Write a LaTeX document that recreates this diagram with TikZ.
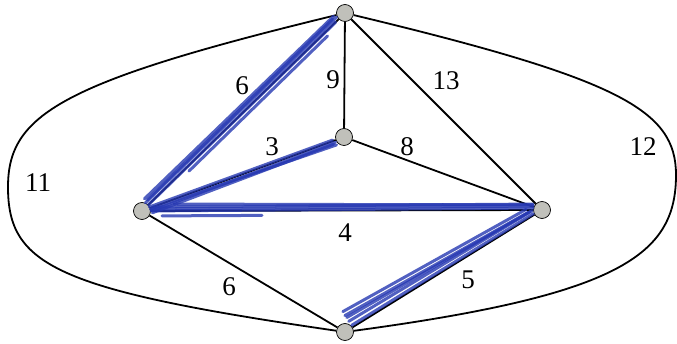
\documentclass[tikz,border=0pt]{standalone}
\usepackage{fontspec}
\setmainfont{Liberation Serif}
\definecolor{pen}{RGB}{38,56,178}
\definecolor{dot}{RGB}{192,192,186}

\begin{document}
\begin{tikzpicture}[x=1pt,y=-1pt,
 v/.style={circle,draw=black,line width=0.7pt,fill=dot,minimum size=17pt,inner sep=0pt},
 e/.style={line width=1.8pt},
 w/.style={font=\fontsize{27}{27}\selectfont,inner sep=0pt},
 hl/.style={draw=pen,line width=3pt,line cap=round,opacity=0.8,shorten <=9pt,shorten >=9pt}]
 \useasboundingbox (0,0) rectangle (677,344);
 \node[v](top) at (345,13){};
 \node[v](mid) at (344,137){};
 \node[v](lft) at (142,211){};
 \node[v](rgt) at (542,210){};
 \node[v](bot) at (345,332){};
 \coordinate (lx) at (8,187);
 \coordinate (rx) at (676,175);
 % outer arcs
 \draw[e](top) .. controls (60,82) and (8,115) .. (lx) .. controls (8,265) and (55,290) .. (bot);
 \draw[e](top) .. controls (620,79) and (676,110) .. (rx) .. controls (676,255) and (620,295) .. (bot);
 % inner edges
 \draw[e](top)--(mid);
 \draw[e](top)--(lft);
 \draw[e](top)--(rgt);
 \draw[e](mid)--(lft);
 \draw[e](mid)--(rgt);
 \draw[e](lft)--(rgt);
 \draw[e](lft)--(bot);
 \draw[e](rgt)--(bot);
 % pen strokes of the tree
 \draw[hl]([shift={(-3,-2)}]lft.center)--([shift={(-2,-2)}]top.center);
 \draw[hl]([shift={(-1,-5)}]lft.center)--([shift={(-6,0)}]top.center);
 \draw[hl]([shift={(0,0)}]lft.center)--([shift={(-3,3)}]top.center);
 \draw[hl]([shift={(-4,-6)}]lft.center)--([shift={(-5,-3)}]top.center);
 \draw[hl,shorten <=60pt,shorten >=30pt]([shift={(4,2)}]lft.center)--([shift={(4,2)}]top.center);
 \draw[hl]([shift={(1,3)}]lft.center)--([shift={(0,2)}]mid.center);
 \draw[hl]([shift={(0,1)}]lft.center)--([shift={(1,5)}]mid.center);
 \draw[hl]([shift={(2,5)}]lft.center)--([shift={(-2,4)}]mid.center);
 \draw[hl]([shift={(-1,-1)}]lft.center)--([shift={(-3,0)}]mid.center);
 \draw[hl]([shift={(0,-2)}]lft.center)--([shift={(0,-4)}]rgt.center);
 \draw[hl]([shift={(2,-4)}]lft.center)--([shift={(0,-6)}]rgt.center);
 \draw[hl]([shift={(0,0)}]lft.center)--([shift={(0,-2)}]rgt.center);
 \draw[hl,shorten <=30pt]([shift={(2,-7)}]lft.center)--([shift={(0,-5)}]rgt.center);
 \draw[hl,shorten <=20pt,shorten >=280pt]([shift={(0,5)}]lft.center)--([shift={(0,4)}]rgt.center);
 \draw[hl]([shift={(-2,-4)}]rgt.center)--([shift={(-4,-6)}]bot.center);
 \draw[hl]([shift={(-4,-3)}]rgt.center)--([shift={(-6,-10)}]bot.center);
 \draw[hl]([shift={(-1,-1)}]rgt.center)--([shift={(-1,-2)}]bot.center);
 \draw[hl]([shift={(-6,-2)}]rgt.center)--([shift={(-8,-12)}]bot.center);
 \draw[hl]([shift={(-8,-5)}]rgt.center)--([shift={(-10,-16)}]bot.center);
 % weights
 \node[w] at (242,86){6};
 \node[w] at (333,80){9};
 \node[w] at (446,81){13};
 \node[w] at (272,147){3};
 \node[w] at (407,147){8};
 \node[w] at (643,147){12};
 \node[w] at (38,183){11};
 \node[w] at (345,233){4};
 \node[w] at (229,287){6};
 \node[w] at (468,280){5};
\end{tikzpicture}
\end{document}
